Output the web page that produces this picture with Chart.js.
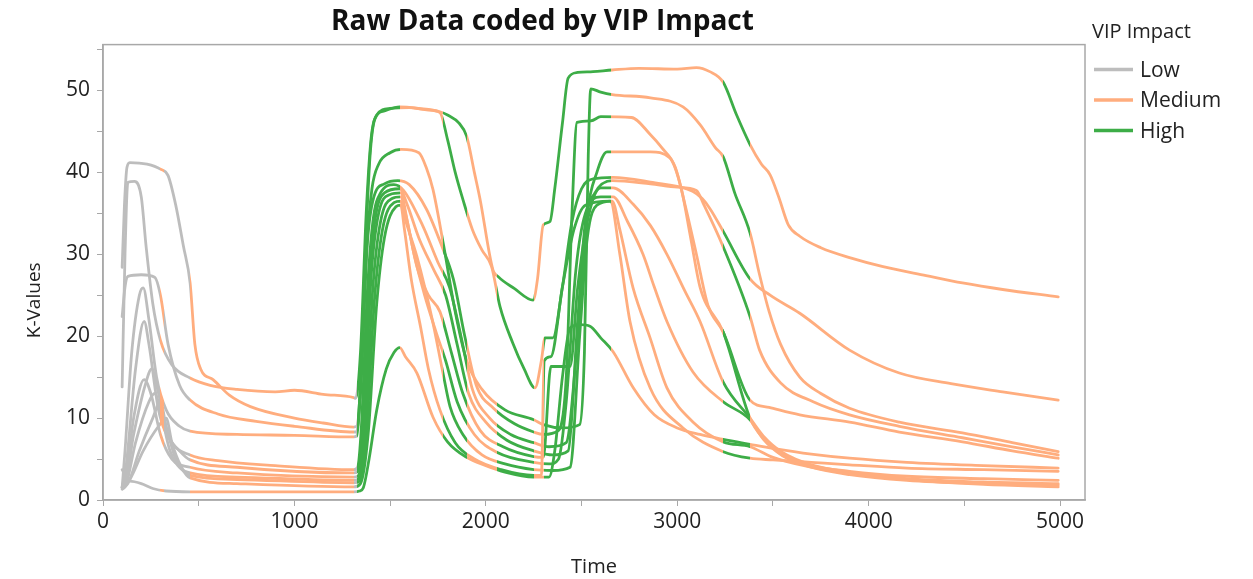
<!DOCTYPE html>
<html>
<head>
<meta charset="utf-8">
<title>Raw Data coded by VIP Impact</title>
<script src="https://cdn.jsdelivr.net/npm/chart.js@4.4.1/dist/chart.umd.min.js"></script>
<style>
  html, body { margin: 0; background: #fff; }
</style>
</head>
<body>
<canvas id="chart" width="1253" height="579"></canvas>
<script>
// impact level by time window: every run is coloured by where it is in time
const impactStart = [0, 300, 320, 455, 1310, 1328, 1552, 1776, 1902, 2058, 2250, 2305, 2655, 3240, 3380];
const impactLevel = ["Low", "Medium", "Low", "Medium", "Low", "High", "Medium", "High", "Medium", "High", "Medium", "High", "Medium", "High", "Medium"];
const levelNames = ["Low", "Medium", "High"];
const levelColors = { Low: "#bdbdbd", Medium: "#ffad7e", High: "#3dad47" };

const xTicks = [0, 500, 1000, 1500, 2000, 2500, 3000, 3500, 4000, 4500, 5000];
const xTickLabels = [0, 1000, 2000, 3000, 4000, 5000];
const yTicks = [0, 5, 10, 15, 20, 25, 30, 35, 40, 45, 50, 55];
const yTickLabels = [0, 10, 20, 30, 40, 50];
const xMax = 5130;
const yMax = 55.6;

// [time, K-value], one array per run
const run1 = [[100,28.4],[112,36],[125,40.6],[140,41.2],[230,41],[300,40.4],[340,39.6],[380,36],[420,31],[455,26.5],[480,19],[510,16],[575,14.7],[660,12.8],[770,11.4],[1000,10],[1150,9.4],[1310,8.9],
  [1325,9],[1340,12],[1370,30],[1395,42],[1420,46.5],[1470,47.5],[1550,48],[1650,47.8],[1760,47.4],[1800,47],[1860,46],[1900,44.4],[1940,40],[1970,36.7],[2037,28.1],[2063,27.3],[2150,25.8],[2247,24.4],
  [2270,27],[2300,33.6],[2335,34],[2360,38],[2400,46],[2430,51.5],[2480,52.2],[2560,52.3],[2660,52.5],[2800,52.7],[3000,52.6],[3100,52.8],[3170,52.3],[3240,51],[3310,47],[3380,43.4],[3440,41],[3485,39.7],[3530,37],[3580,33.6],[3640,32.2],[3750,30.8],[3900,29.6],[4075,28.5],[4300,27.4],[4490,26.5],[4700,25.7],[4990,24.8]];
const run2 = [[100,13.8],[115,30],[130,38.8],[165,38.9],[200,37],[225,31],[260,24],[300,19.5],[360,16.5],[455,14.9],[560,14],[700,13.5],[900,13.2],[1000,13.4],[1150,12.9],[1310,12.5],
  [1320,12.4],[1345,18],[1375,35],[1400,44],[1430,47],[1500,47.8],[1600,47.9],[1700,47.6],[1760,47.3],[1800,44],[1840,40],[1880,36.7],[1930,33],[1980,30.5],[2030,28.5],[2074,23.6],[2140,19.2],[2200,16],[2257,13.7],
  [2290,17],[2309,19.8],[2350,19.8],[2400,26],[2450,34],[2500,38],[2560,39.2],[2665,39.4],[2860,38.8],[3080,37.7],[3130,36.8],[3170,35.6],[3240,32.8],[3380,27],[3485,25],[3640,22.8],[3900,18.3],[4160,15.5],[4430,14.2],[4700,13.2],[4990,12.2]];
const run3 = [[100,22.4],[115,26],[130,27.3],[200,27.5],[270,27.2],[300,25],[340,19],[400,14],[455,12.2],[600,10.5],[800,9.6],[1000,9],[1310,8.3],
  [1325,8.3],[1345,14],[1375,30],[1405,38],[1440,41],[1500,42.4],[1560,42.8],[1650,42.4],[1690,40.5],[1724,37.9],[1780,31],[1840,23],[1900,17],[1980,13.5],[2100,11],[2250,9.8],
  [2300,9.2],[2400,8.8],[2490,9.2],[2515,18],[2535,42],[2548,50.2],[2600,49.8],[2660,49.5],[2860,49.1],[3030,48],[3120,45.8],[3200,43],[3240,41.9],[3300,37.5],[3380,32.6],[3430,27.5],[3480,23],[3540,19],[3640,15],[3750,13],[3900,11.2],[4160,9.5],[4490,8.2],[4750,7],[4990,5.9]];
const run4 = [[100,1.5],[115,6],[150,18],[190,25],[210,25.9],[240,22],[280,15],[330,11],[400,9],[455,8.4],[700,8],[1000,7.9],[1310,7.7],
  [1325,7.8],[1348,14],[1380,31],[1415,37],[1470,38.6],[1540,39],[1600,38.5],[1690,35.5],[1770,31],[1830,27],[1890,20],[1950,14],[2040,11.2],[2150,9.3],[2250,8.3],
  [2300,8],[2380,8.5],[2420,15],[2450,35],[2476,46.1],[2550,46.3],[2600,46.8],[2760,46.7],[2860,44.6],[2920,43],[2990,40.6],[3040,36.1],[3100,30],[3160,23.8],[3240,20.5],[3380,12.2],[3480,11.3],[3640,10.4],[3900,9.5],[4160,8.3],[4490,7.1],[4750,6],[4990,5.1]];
const run5 = [[100,1.4],[120,4],[170,16],[215,21.8],[240,19],[290,11],[360,7],[455,5.5],[600,4.8],[900,4.2],[1310,3.7],
  [1330,4],[1350,9],[1380,25],[1410,34],[1450,37.5],[1520,38.5],[1570,37.8],[1670,33.5],[1750,29],[1810,26],[1870,20],[1930,13.5],[2020,10],[2130,8],[2250,7],
  [2330,6.5],[2420,7],[2480,20],[2530,35],[2580,40],[2633,42.5],[2860,42.5],[2960,41.8],[3020,38.1],[3070,32],[3120,25.9],[3240,20.5],[3380,10],[3450,7.5],[3550,5.5],[3700,4.2],[3900,3.5],[4200,2.9],[4600,2.6],[4990,2.4]];
const run6 = [[100,3.7],[120,3],[160,8],[220,14],[255,16],[290,13],[340,8],[400,6],[455,4.9],[700,4],[1310,3.3],
  [1330,3.5],[1355,9],[1390,26],[1420,34],[1470,37.5],[1550,38],[1590,36],[1650,32],[1730,28],[1790,25],[1850,19],[1910,13],[2000,9.5],[2110,7.3],[2250,6],
  [2350,5.5],[2430,6],[2480,22],[2520,34],[2570,37.5],[2660,39],[2860,38.6],[3000,38.2],[3100,37.8],[3140,36],[3240,30.9],[3380,22.4],[3430,18.3],[3540,14.3],[3710,12],[3900,10.4],[4160,9],[4490,7.6],[4750,6.5],[4990,5.5]];
const run7 = [[100,1.5],[115,2],[160,10],[215,14.7],[250,13],[300,8],[360,5],[455,4],[700,3.3],[1310,2.8],
  [1335,3],[1365,10],[1400,27],[1440,35],[1500,37.3],[1555,37.5],[1590,34],[1640,28.5],[1700,25],[1760,23],[1820,18],[1880,13],[1970,8.5],[2090,6.5],[2250,5.3],
  [2300,5.2],[2340,16.3],[2440,16.3],[2480,26],[2530,34],[2600,38.1],[2665,38.1],[2770,36.1],[2860,33.5],[2946,30],[3040,25.5],[3119,21.8],[3240,14.4],[3380,10],[3450,7.8],[3550,5.8],[3700,4.3],[3900,3.4],[4200,2.6],[4600,2.2],[4990,2]];
const run8 = [[100,1.3],[120,1.8],[170,7],[240,12],[270,13],[300,11],[350,6],[455,3.3],[700,2.8],[1310,2.4],
  [1335,2.6],[1370,9],[1410,26],[1450,34],[1510,36.8],[1555,37],[1580,35],[1625,30],[1680,25],[1740,20.5],[1790,17],[1850,12],[1940,8],[2060,5.8],[2250,4.6],
  [2330,4.4],[2380,5],[2420,12],[2470,28],[2520,35],[2600,37],[2665,37],[2740,34],[2821,30],[2880,26],[2946,21.8],[3083,15.6],[3240,12],[3380,9.8],[3450,7.4],[3550,5.4],[3700,4],[3900,3.1],[4200,2.4],[4600,2],[4990,1.8]];
const run9 = [[100,1.5],[130,2],[190,6],[260,10],[300,12],[330,9],[380,5],[455,3],[700,2.5],[1310,2.1],
  [1340,2.3],[1375,8],[1420,25],[1460,33],[1520,36.3],[1555,36.5],[1575,34.6],[1640,29.7],[1724,21.6],[1776,15.5],[1813,11.4],[1880,8],[1980,5.5],[2100,4.4],[2250,3.7],
  [2350,3.6],[2440,4],[2490,20],[2530,32],[2580,36],[2660,36.5],[2700,33],[2769,25.9],[2858,19.8],[2946,13.7],[3083,9.5],[3240,7.1],[3380,6.5],[3500,5.2],[3700,4],[3900,3.2],[4200,2.5],[4600,1.9],[4990,1.6]];
const run10 = [[100,1.6],[140,2.5],[210,6],[290,9],[330,10],[360,7],[410,4],[455,2.7],[700,2],[1310,1.6],
  [1345,2],[1385,8],[1430,24],[1470,32],[1530,35.8],[1555,36],[1575,33],[1610,27],[1660,21],[1700,16],[1760,11],[1840,7],[1940,5],[2080,3.7],[2250,3],
  [2290,3],[2305,17],[2340,17.5],[2400,26],[2460,33],[2520,36],[2650,36.5],[2700,30],[2753,21.8],[2858,13.7],[3030,8.8],[3240,5.9],[3380,5.1],[3500,4.9],[3700,4.6],[3900,4.3],[4200,3.9],[4600,3.7],[4990,3.5]];
const run11 = [[100,1.6],[115,2.2],[140,2.3],[200,2],[260,1.4],[330,1.1],[455,1],[800,1],[1310,1],
  [1340,1.1],[1360,1.5],[1390,5],[1430,11],[1480,16],[1520,18],[1550,18.6],[1580,17.5],[1640,15.5],[1724,10.1],[1800,7.1],[1900,5.2],[2000,4.2],[2100,3.4],[2250,2.8],
  [2330,2.8],[2360,6],[2400,15],[2440,21],[2492,21.4],[2544,21.2],[2600,19.8],[2665,18.1],[2770,13.7],[2880,10.4],[3000,8.8],[3119,8],[3240,7.4],[3380,6.8],[3500,6.3],[3700,5.6],[3900,5.1],[4200,4.6],[4600,4.2],[4990,3.9]];

const runs = [run1, run2, run3, run4, run5, run6, run7, run8, run9, run10, run11];

const family = "'Segoe UI', 'Open Sans', sans-serif";
const textColor = "#222";
const axisGray = "#a8a8a8";

// one horizontal gradient with hard stops, so each run changes colour at the window edges
let gradCache = null;
function impactGradient(chart) {
  const { ctx, chartArea, scales } = chart;
  if (!chartArea || !scales.x) return levelColors.Medium;
  const key = chartArea.left + ":" + chartArea.right;
  if (gradCache && gradCache.key === key) return gradCache.g;
  const w = chartArea.right - chartArea.left;
  const off = t => Math.min(1, Math.max(0, (scales.x.getPixelForValue(t) - chartArea.left) / w));
  const g = ctx.createLinearGradient(chartArea.left, 0, chartArea.right, 0);
  impactStart.forEach((t, i) => {
    const c = levelColors[impactLevel[i]];
    const end = i + 1 < impactStart.length ? impactStart[i + 1] : scales.x.max;
    g.addColorStop(off(t), c);
    g.addColorStop(off(end), c);
  });
  gradCache = { key, g };
  return g;
}

const frame = {
  id: "frame",
  afterDatasetsDraw(chart) {
    const { ctx, chartArea: a } = chart;
    ctx.save();
    ctx.strokeStyle = axisGray;
    ctx.lineWidth = 1.5;
    ctx.strokeRect(a.left, a.top, a.right - a.left, a.bottom - a.top);
    ctx.restore();
  }
};

// y title sits a little below the middle of the plot in the original
const yTitle = {
  id: "yTitle",
  afterDraw(chart) {
    const { ctx, chartArea: a } = chart;
    ctx.save();
    ctx.translate(a.left - 68, (a.top + a.bottom) / 2 + 28);
    ctx.rotate(-Math.PI / 2);
    ctx.fillStyle = textColor;
    ctx.font = `19px ${family}`;
    ctx.textAlign = "center";
    ctx.textBaseline = "middle";
    ctx.fillText("K-Values", 0, 0);
    ctx.restore();
  }
};

const impactLegend = {
  id: "impactLegend",
  afterDraw(chart) {
    const { ctx, chartArea: a } = chart;
    ctx.save();
    ctx.fillStyle = textColor;
    ctx.textAlign = "left";
    ctx.textBaseline = "middle";
    ctx.font = `20px ${family}`;
    ctx.fillText("VIP Impact", a.right + 7, a.top - 12);
    ctx.font = `21px ${family}`;
    levelNames.forEach((name, i) => {
      const y = a.top + 25 + i * 30.5;
      ctx.strokeStyle = levelColors[name];
      ctx.lineWidth = 3.5;
      ctx.beginPath();
      ctx.moveTo(a.right + 9, y);
      ctx.lineTo(a.right + 48, y);
      ctx.stroke();
      ctx.fillText(name, a.right + 55, y + 1);
    });
    ctx.restore();
  }
};

new Chart(document.getElementById("chart"), {
  type: "line",
  data: {
    datasets: runs.map((r, i) => ({
      label: "Run " + (i + 1),
      data: r,
      borderColor: c => impactGradient(c.chart),
      borderWidth: 2.8,
      pointRadius: 0,
      cubicInterpolationMode: "monotone",
      borderJoinStyle: "round",
      borderCapStyle: "round",
      fill: false,
    })),
  },
  options: {
    responsive: false,
    animation: false,
    layout: { padding: { left: 0, right: 168, top: 0, bottom: 0 } },
    plugins: {
      legend: { display: false },
      tooltip: { enabled: false },
      title: {
        display: true,
        text: "Raw Data coded by VIP Impact",
        color: "#111",
        font: { family, size: 28, weight: "bold" },
        padding: { top: 5, bottom: 6 },
      },
    },
    scales: {
      x: {
        type: "linear",
        min: 0,
        max: xMax,
        afterBuildTicks: s => { s.ticks = xTicks.map(v => ({ value: v })); },
        afterFit: s => { s.height = 79; },
        border: { color: axisGray, width: 1.5 },
        grid: { drawOnChartArea: false, drawTicks: true, tickLength: 6, color: axisGray },
        ticks: {
          autoSkip: false, maxRotation: 0, padding: 3,
          color: textColor, font: { family, size: 21 },
          callback: v => xTickLabels.includes(v) ? String(v) : "",
        },
        title: { display: true, text: "Time", color: textColor, font: { family, size: 20 }, padding: { top: 0, bottom: 0 } },
      },
      y: {
        min: 0,
        max: yMax,
        afterBuildTicks: s => { s.ticks = yTicks.map(v => ({ value: v })); },
        afterFit: s => { s.width = 103; },
        border: { color: axisGray, width: 1.5 },
        grid: { drawOnChartArea: false, drawTicks: true, tickLength: 6, color: axisGray },
        ticks: {
          autoSkip: false, padding: 7,
          color: textColor, font: { family, size: 21 },
          callback: v => yTickLabels.includes(v) ? String(v) : "",
        },
        title: { display: false },
      },
    },
  },
  plugins: [frame, yTitle, impactLegend],
});
</script>
</body>
</html>
